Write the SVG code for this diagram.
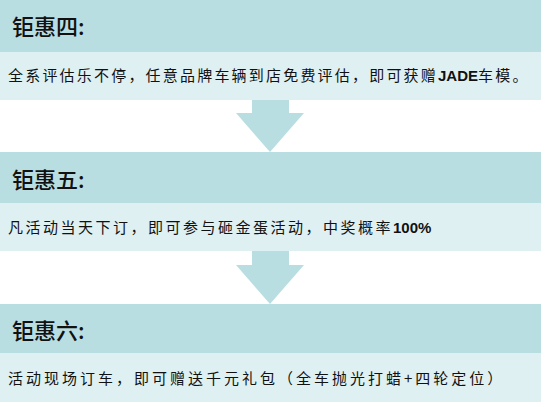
<svg xmlns="http://www.w3.org/2000/svg" width="545" height="407" viewBox="0 0 545 407">
  <style>
    .hdr { fill: #B9DEE2; }
    .body { fill: #DFF0F2; }
    .arrow { fill: #B9DEE2; }
    .title { font-family: "Noto Sans CJK SC", "Noto Sans", sans-serif; font-size: 22px; font-weight: 500; fill: #111; }
    .desc { font-family: "Noto Sans CJK SC", "Liberation Sans", sans-serif; font-size: 15px; fill: #111; }
    .latin { font-family: "Liberation Sans", Arial, sans-serif; font-weight: bold; letter-spacing: 0; }
  </style>
  <rect x="0" y="0" width="545" height="407" fill="#ffffff"/>

  <g id="node-4">
    <rect class="hdr" x="0" y="0" width="541" height="52"/>
    <rect class="body" x="0" y="52" width="541" height="48"/>
    <text class="title" x="12" y="35">钜惠四:</text>
    <text class="desc" x="8" y="81" letter-spacing="2.2">全系评估乐不停，任意品牌车辆到店免费评估，即可获赠<tspan class="latin">JADE</tspan>车模。</text>
  </g>

  <g id="node-5">
    <rect class="hdr" x="0" y="152" width="541" height="51"/>
    <rect class="body" x="0" y="203" width="541" height="48"/>
    <text class="title" x="12" y="188">钜惠五:</text>
    <text class="desc" x="8" y="233" letter-spacing="2.5">凡活动当天下订，即可参与砸金蛋活动，中奖概率<tspan class="latin">100%</tspan></text>
  </g>

  <g id="node-6">
    <rect class="hdr" x="0" y="304" width="541" height="49"/>
    <rect class="body" x="0" y="353" width="541" height="49"/>
    <text class="title" x="12" y="339">钜惠六:</text>
    <text class="desc" x="8" y="384" letter-spacing="3.0">活动现场订车，即可赠送千元礼包（全车抛光打蜡+四轮定位）</text>
  </g>

  <g id="connectors">
    <polygon class="arrow" points="252,100 289,100 289,113 304,113 270,152 236,113 252,113"/>
    <polygon class="arrow" points="252,251 289,251 289,265 304,265 270,304 236,265 252,265"/>
  </g>
</svg>
